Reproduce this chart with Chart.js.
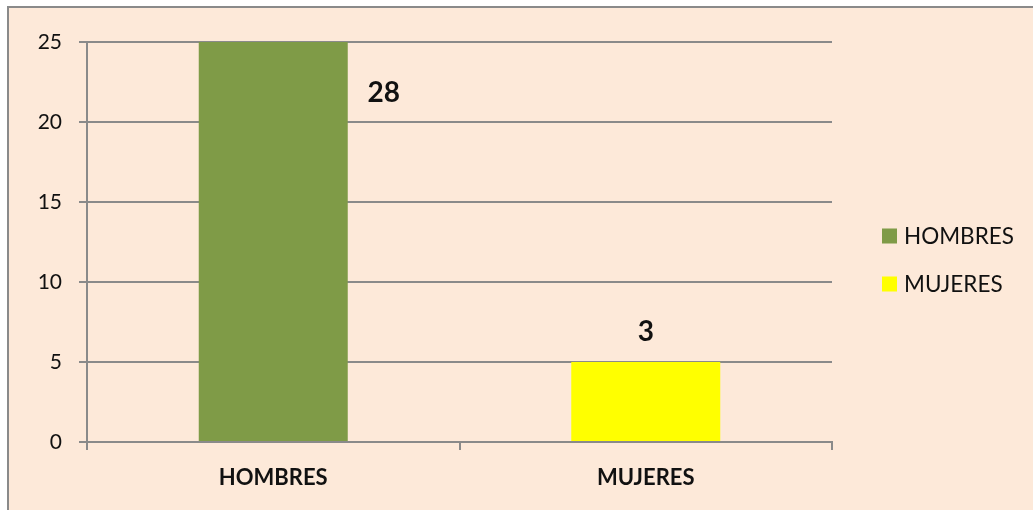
<!DOCTYPE html>
<html>
<head>
<meta charset="utf-8">
<script src="https://cdn.jsdelivr.net/npm/chart.js@4/dist/chart.umd.min.js"></script>
<style>
  html, body { margin: 0; padding: 0; background: #fff; overflow: hidden; }
  #marco { position: absolute; left: 7px; top: 6px; width: 1040px; height: 520px; background: #fde9d9; border: 2px solid #8a8a8a; }
  #grafico { position: absolute; left: 0; top: 0; }
</style>
</head>
<body>
<div id="marco"></div>
<canvas id="grafico" width="1033" height="510"></canvas>
<script>
const categorias = ['HOMBRES', 'MUJERES'];
const valores = [28, 5];
const etiquetas = ['28', '3'];
const colores = ['#7f9b47', '#ffff00'];
const ticksY = [0, 5, 10, 15, 20, 25];

const gris = '#8a8a8a';
const texto = '#111111';

// etiquetas de datos (la que se sale del eje va a la derecha de la barra)
const etiquetasDatos = {
  id: 'etiquetasDatos',
  afterDatasetsDraw(chart) {
    const c = chart.ctx;
    const meta = chart.getDatasetMeta(0);
    const yMax = chart.scales.y.max;
    c.save();
    c.font = 'bold 28px Lato';
    c.fillStyle = texto;
    c.textAlign = 'center';
    c.textBaseline = 'middle';
    meta.data.forEach((bar, i) => {
      let x = bar.x;
      let y = bar.y - 30;
      if (valores[i] > yMax) {
        x = bar.x + bar.width / 2 + 36;
        y = chart.chartArea.top + 51;
      }
      c.fillText(etiquetas[i], x, y);
    });
    c.restore();
  }
};

// leyenda a la derecha
const leyenda = {
  id: 'leyenda',
  afterDraw(chart) {
    const c = chart.ctx;
    const x0 = chart.chartArea.right + 50;
    c.save();
    c.font = '22.5px Lato';
    c.textBaseline = 'middle';
    categorias.forEach((cat, i) => {
      const y = 236 + i * 48;
      c.fillStyle = colores[i];
      c.fillRect(x0, y - 7.5, 15, 15);
      c.fillStyle = texto;
      c.fillText(cat, x0 + 22, y + 1);
    });
    c.restore();
  }
};

new Chart(document.getElementById('grafico'), {
  type: 'bar',
  data: {
    labels: categorias,
    datasets: [{
      data: valores,
      backgroundColor: colores,
      borderWidth: 0,
      barPercentage: 0.4,
      categoryPercentage: 1.0
    }]
  },
  options: {
    responsive: false,
    animation: false,
    layout: { padding: { left: 0, top: 42, right: 201, bottom: 0 } },
    plugins: {
      legend: { display: false },
      tooltip: { enabled: false }
    },
    scales: {
      x: {
        grid: { drawOnChartArea: false, color: gris, lineWidth: 2, tickLength: 8, offset: true },
        border: { color: gris, width: 2 },
        ticks: { color: texto, font: { family: 'Lato', size: 22, weight: 'bold' }, padding: 15 },
        afterFit: s => { s.height = 68; }
      },
      y: {
        min: 0,
        max: 25,
        afterBuildTicks: s => { s.ticks = ticksY.map(v => ({ value: v })); },
        ticks: { color: texto, font: { family: 'Lato', size: 21 }, padding: 17 },
        grid: { color: gris, lineWidth: 2, tickLength: 8 },
        border: { color: gris, width: 2 },
        afterFit: s => { s.width = 87; }
      }
    }
  },
  plugins: [etiquetasDatos, leyenda]
});
</script>
</body>
</html>
